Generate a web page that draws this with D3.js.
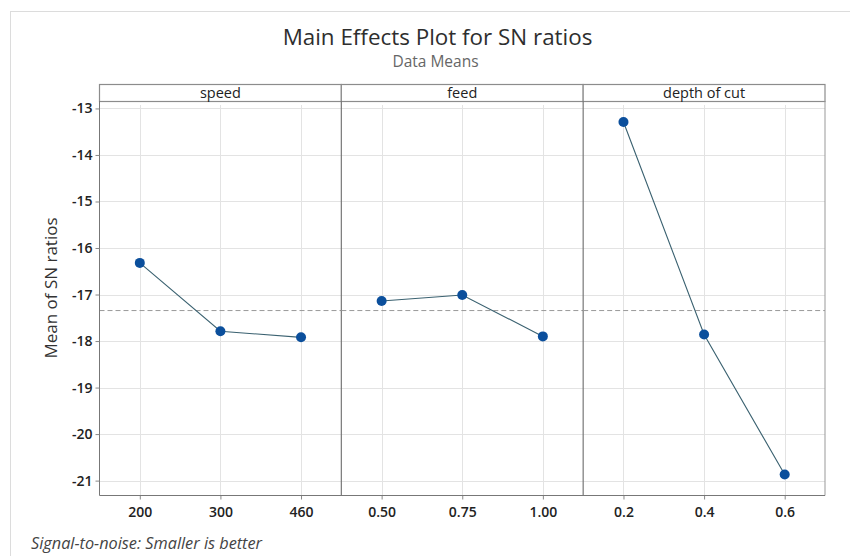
<!DOCTYPE html>
<html>
<head>
<meta charset="utf-8">
<script src="https://cdn.jsdelivr.net/npm/d3@7"></script>
<style>
  html, body { margin: 0; padding: 0; background: #fff; }
  svg { display: block; font-family: "Open Sans", "Noto Sans", sans-serif; }
</style>
</head>
<body>
<svg id="chart" width="850" height="556"></svg>
<script>
// Factors, their levels and the mean SN ratio at each level
const factors = ["speed", "feed", "depth of cut"];
const speedLevels = ["200", "300", "460"];
const feedLevels = ["0.50", "0.75", "1.00"];
const depthLevels = ["0.2", "0.4", "0.6"];
const speedMeans = [-16.32, -17.79, -17.92];
const feedMeans = [-17.14, -17.01, -17.90];
const depthMeans = [-13.29, -17.86, -20.87];
const yTicks = [-13, -14, -15, -16, -17, -18, -19, -20, -21];

const levels = [speedLevels, feedLevels, depthLevels];
const means = [speedMeans, feedMeans, depthMeans];
const grandMean = d3.mean([].concat(speedMeans, feedMeans, depthMeans));

const svg = d3.select("#chart");
const W = 850, H = 556;
const left = 99.5, right = 825, stripTop = 84, plotTop = 101, plotBottom = 495.5;
const panelW = (right - left) / factors.length;

// outer frame
svg.append("rect").attr("x", 10.5).attr("y", 11.5).attr("width", W).attr("height", H)
  .attr("fill", "none").attr("stroke", "#dcdcdc").attr("stroke-width", 1);

// titles
svg.append("text").attr("x", 437.5).attr("y", 44.8).attr("text-anchor", "middle")
  .attr("font-size", 22.4).attr("font-weight", 500).attr("fill", "#2e2e2e").text("Main Effects Plot for SN ratios");
svg.append("text").attr("x", 435.5).attr("y", 67).attr("text-anchor", "middle")
  .attr("font-size", 15.5).attr("fill", "#666").text("Data Means");

const y = d3.scaleLinear().domain([-12.84, -21.32]).range([plotTop, plotBottom]);

// horizontal gridlines across all panels
svg.append("g").selectAll("line").data(yTicks).join("line")
  .attr("x1", left).attr("x2", right)
  .attr("y1", d => Math.round(y(d)) + 0.5).attr("y2", d => Math.round(y(d)) + 0.5)
  .attr("stroke", "#e3e3e3").attr("stroke-width", 1);

factors.forEach((f, i) => {
  const x0 = left + i * panelW;
  const x = d3.scalePoint().domain(levels[i]).range([x0, x0 + panelW]).padding(0.5);
  const g = svg.append("g");

  // vertical gridlines
  g.selectAll("line.vg").data(levels[i]).join("line").attr("class", "vg")
    .attr("x1", d => Math.round(x(d)) + 0.5).attr("x2", d => Math.round(x(d)) + 0.5)
    .attr("y1", plotTop + 4).attr("y2", plotBottom)
    .attr("stroke", "#e3e3e3").attr("stroke-width", 1);

  // x axis
  const xa = svg.append("g").attr("transform", `translate(0,${plotBottom})`)
    .call(d3.axisBottom(x).tickSize(4).tickPadding(8));
  xa.select(".domain").remove();
  xa.selectAll("line").attr("stroke", "#888");
  xa.selectAll("text").attr("font-size", 14).attr("font-weight", 600).attr("fill", "#222")
    .attr("font-family", "'Open Sans', sans-serif");

  // strip
  svg.append("rect").attr("x", x0).attr("y", stripTop + 0.5).attr("width", panelW).attr("height", plotTop - stripTop)
    .attr("fill", "#fff").attr("stroke", "#8c8c8c").attr("stroke-width", 1.2);
  svg.append("text").attr("x", x0 + panelW / 2).attr("y", plotTop - 3.5).attr("text-anchor", "middle")
    .attr("font-size", 14.5).attr("fill", "#222").text(f);

  // panel divider
  if (i > 0) {
    svg.append("line").attr("x1", x0).attr("x2", x0).attr("y1", plotTop).attr("y2", plotBottom)
      .attr("stroke", "#777").attr("stroke-width", 1.2);
  }

  // reference line at the grand mean
  svg.append("line").attr("x1", x0).attr("x2", x0 + panelW)
    .attr("y1", y(grandMean)).attr("y2", y(grandMean))
    .attr("stroke", "#9a9a9a").attr("stroke-width", 1).attr("stroke-dasharray", "5,3");

  const pts = levels[i].map((l, j) => [x(l), y(means[i][j])]);
  svg.append("path").attr("d", d3.line()(pts)).attr("fill", "none")
    .attr("stroke", "#3a6170").attr("stroke-width", 1.1);
  svg.append("g").selectAll("circle").data(pts).join("circle")
    .attr("cx", d => d[0]).attr("cy", d => d[1]).attr("r", 5)
    .attr("fill", "#0b4f9c");
});

// right frame of the plot area
svg.append("line").attr("x1", right).attr("x2", right).attr("y1", plotTop).attr("y2", plotBottom)
  .attr("stroke", "#999").attr("stroke-width", 1);

// y axis (hyphen-minus labels)
const ya = svg.append("g").attr("transform", `translate(${left},0)`)
  .call(d3.axisLeft(y).tickValues(yTicks).tickSize(4).tickPadding(3).tickFormat(d => "-" + Math.abs(d)));
ya.select(".domain").attr("d", `M0,${plotTop}V${plotBottom}H${right - left}`).attr("stroke", "#777");
ya.selectAll(".tick line").attr("stroke", "#888");
ya.selectAll("text").attr("font-size", 14).attr("font-weight", 600).attr("fill", "#222")
  .attr("font-family", "'Open Sans', sans-serif");

svg.append("text").attr("transform", `translate(57,288) rotate(-90)`)
  .attr("text-anchor", "middle").attr("font-size", 17).attr("fill", "#333").text("Mean of SN ratios");

svg.append("text").attr("x", 31).attr("y", 548.5).attr("font-size", 16.3).attr("font-style", "italic")
  .attr("fill", "#444").text("Signal-to-noise: Smaller is better");
</script>
</body>
</html>
